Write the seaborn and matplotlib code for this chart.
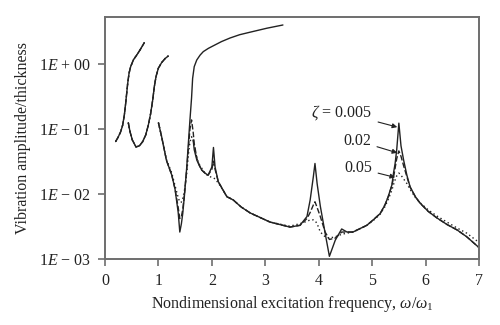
import matplotlib
matplotlib.use("Agg")
import matplotlib.pyplot as plt
import pandas as pd
import seaborn as sns

# Frequency-response branches: nondimensional frequency vs amplitude/thickness
# Low-frequency branches (common to all damping ratios)
freq_a = [0.199, 0.25, 0.294, 0.331, 0.362, 0.387, 0.406, 0.425, 0.45, 0.48,
          0.53, 0.593, 0.655, 0.736]
amp_a = [0.064, 0.076, 0.091, 0.115, 0.164, 0.248, 0.355, 0.505, 0.72, 0.91,
         1.15, 1.37, 1.64, 2.13]

freq_b = [0.436, 0.468, 0.511, 0.58, 0.643, 0.706, 0.762, 0.811, 0.855, 0.893,
          0.923, 0.955, 0.998, 1.06, 1.124, 1.185]
amp_b = [0.125, 0.091, 0.068, 0.053, 0.055, 0.064, 0.081, 0.115, 0.174, 0.28,
         0.447, 0.64, 0.86, 1.05, 1.21, 1.33]

# Main branch frequencies (rows of 10)
freq_low = [1.00, 1.06, 1.15, 1.25, 1.31, 1.37, 1.40, 1.43, 1.455, 1.485,
            1.53, 1.56, 1.59, 1.62, 1.65, 1.67, 1.72, 1.77, 1.81, 1.87,
            1.93, 2.00, 2.03, 2.06, 2.12, 2.28, 2.40, 2.55, 2.72, 3.09,
            3.46, 3.65, 3.78, 3.84, 3.90, 3.93, 3.97, 4.03, 4.12, 4.20,
            4.31, 4.43, 4.53, 4.64, 4.90, 5.02, 5.15, 5.24, 5.30, 5.37,
            5.40, 5.43, 5.46, 5.50, 5.54, 5.59, 5.65, 5.71, 5.81, 5.90,
            6.05, 6.21, 6.40, 6.59, 6.77, 7.00]

# zeta = 0.005: climbs onto the upper branch near 1.6 ...
freq_up_005 = [1.00, 1.06, 1.15, 1.25, 1.31, 1.37, 1.40, 1.43, 1.455, 1.485,
               1.53, 1.56, 1.59, 1.62, 1.64, 1.67, 1.717, 1.78, 1.84, 1.935,
               2.03, 2.18, 2.34, 2.52, 2.72, 3.03, 3.33]
amp_up_005 = [0.125, 0.076, 0.033, 0.0195, 0.012, 0.0052, 0.0026, 0.0035, 0.005, 0.0091,
              0.026, 0.06, 0.138, 0.30, 0.60, 0.91, 1.15, 1.37, 1.55, 1.74,
              1.91, 2.21, 2.51, 2.82, 3.09, 3.55, 3.98]
# ... and has a separate lower branch from 1.65 upward (freq_low[14:])
amp_low_005 = [0.068, 0.048, 0.033, 0.027, 0.0234, 0.021,
               0.0195, 0.026, 0.052, 0.026, 0.0155, 0.0091, 0.0081, 0.0063, 0.0051, 0.0037,
               0.0031, 0.0033, 0.0045, 0.0081, 0.0186, 0.0295, 0.0145, 0.0065, 0.0025, 0.0011,
               0.00195, 0.0029, 0.0026, 0.0026, 0.0033, 0.004, 0.005, 0.0068, 0.0091, 0.0138,
               0.021, 0.0295, 0.048, 0.123, 0.055, 0.033, 0.0195, 0.0129, 0.0091, 0.0072,
               0.0054, 0.0043, 0.0034, 0.0028, 0.0022, 0.0015]

amp_low_002 = [0.125, 0.076, 0.033, 0.0195, 0.012, 0.0062, 0.0042, 0.0045, 0.0058, 0.0095,
               0.024, 0.05, 0.10, 0.138, 0.09, 0.06, 0.035, 0.027, 0.0234, 0.021,
               0.0195, 0.024, 0.032, 0.024, 0.0155, 0.0091, 0.0081, 0.0063, 0.0051, 0.0037,
               0.0031, 0.0033, 0.0042, 0.0052, 0.0068, 0.0076, 0.0062, 0.0045, 0.0026, 0.0020,
               0.0021, 0.0026, 0.0026, 0.0026, 0.0033, 0.004, 0.005, 0.0068, 0.009, 0.0135,
               0.018, 0.025, 0.035, 0.046, 0.038, 0.027, 0.0185, 0.0128, 0.009, 0.0072,
               0.0054, 0.0043, 0.0034, 0.0028, 0.0022, 0.0015]

amp_low_05 = [0.125, 0.076, 0.034, 0.021, 0.0135, 0.0088, 0.0075, 0.0075, 0.0085, 0.011,
              0.021, 0.04, 0.063, 0.076, 0.068, 0.055, 0.036, 0.028, 0.025, 0.021,
              0.019, 0.018, 0.0178, 0.017, 0.0148, 0.0093, 0.0081, 0.0063, 0.0051, 0.0037,
              0.0032, 0.0035, 0.0038, 0.0040, 0.0040, 0.0039, 0.0035, 0.0026, 0.0022, 0.0021,
              0.0022, 0.0024, 0.0025, 0.0026, 0.0033, 0.0039, 0.0049, 0.0064, 0.0082, 0.0115,
              0.014, 0.0165, 0.019, 0.021, 0.0195, 0.017, 0.0145, 0.0118, 0.0088, 0.0073,
              0.0057, 0.0046, 0.0037, 0.003, 0.0025, 0.0018]

zeta_labels = ["0.005", "0.02", "0.05"]
yticks = [1e-3, 1e-2, 1e-1, 1e0]
ytick_labels = ["1$E$ \u2212 03", "1$E$ \u2212 02", "1$E$ \u2212 01", "1$E$ + 00"]
xticks = [0, 1, 2, 3, 4, 5, 6, 7]

# Long-form table, one "branch" id per continuous curve piece
pieces = []
def add(freq, amp, zeta, branch):
    pieces.append(pd.DataFrame({"freq": freq, "amp": amp, "zeta": zeta, "branch": branch}))

for z in zeta_labels:
    add(freq_a, amp_a, z, f"A-{z}")
    add(freq_b, amp_b, z, f"B-{z}")
add(freq_up_005, amp_up_005, "0.005", "C-0.005")
add(freq_low[14:], amp_low_005, "0.005", "D-0.005")
add(freq_low, amp_low_002, "0.02", "C-0.02")
add(freq_low, amp_low_05, "0.05", "C-0.05")
df = pd.concat(pieces, ignore_index=True)

sns.set_theme(style="white")
plt.rcParams["font.family"] = ["Liberation Serif", "DejaVu Serif"]
plt.rcParams["mathtext.fontset"] = "custom"
plt.rcParams["mathtext.rm"] = "Liberation Serif"
plt.rcParams["mathtext.it"] = "Liberation Serif:italic"

fig = plt.figure(figsize=(5.0, 3.25), dpi=100)
ax = fig.add_axes([0.21, 0.203, 0.748, 0.745])

ink = "#222222"
sns.lineplot(data=df, x="freq", y="amp", style="zeta", units="branch",
             estimator=None, sort=False, color=ink, linewidth=1.0,
             dashes={"0.005": "", "0.02": (4, 1.6), "0.05": (1, 2)},
             style_order=zeta_labels, legend=False, ax=ax)

ax.set_yscale("log")
ax.set_xlim(0, 7)
ax.set_ylim(1e-3, 5.3)
ax.set_xticks(xticks)
ax.set_xticklabels([str(v) for v in xticks])
ax.set_yticks(yticks)
ax.set_yticklabels(ytick_labels)
ax.yaxis.set_minor_locator(matplotlib.ticker.NullLocator())

spine_c = "#6e6e6e"
for s in ax.spines.values():
    s.set_visible(True)
    s.set_color(spine_c)
    s.set_linewidth(1.4)
ax.tick_params(axis="both", which="major", direction="out", length=5, width=1.2,
               color=spine_c, labelcolor=ink, labelsize=11.5, pad=5,
               bottom=True, left=True)

ax.set_xlabel("Nondimensional excitation frequency, $\\omega/\\omega_1$",
              fontsize=11.5, color=ink, labelpad=4)
ax.set_ylabel("Vibration amplitude/thickness", fontsize=11.5, color=ink, labelpad=6)

arrow = dict(arrowstyle="-|>", color=ink, lw=0.8, mutation_scale=7,
             shrinkA=2, shrinkB=0)
ax.annotate("$\\zeta$ = 0.005", xy=(5.47, 0.107), xytext=(5.0, 0.18),
            ha="right", va="center", fontsize=11.5, color=ink, arrowprops=arrow)
ax.annotate("0.02", xy=(5.47, 0.043), xytext=(4.98, 0.066),
            ha="right", va="center", fontsize=11.5, color=ink, arrowprops=arrow)
ax.annotate("0.05", xy=(5.43, 0.018), xytext=(5.0, 0.025),
            ha="right", va="center", fontsize=11.5, color=ink, arrowprops=arrow)

fig.savefig("out.png", dpi=100)
